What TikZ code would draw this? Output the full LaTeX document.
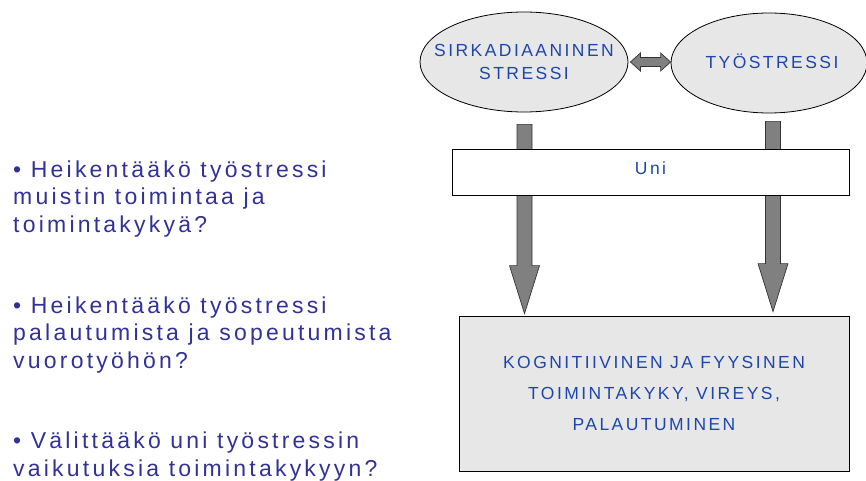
\documentclass[tikz,border=0pt]{standalone}
\usepackage{fontspec}
\setmainfont{Liberation Sans}
\newfontfamily\diagfont[LetterSpace=14]{Liberation Sans}
\newfontfamily\questfont[LetterSpace=14]{Liberation Sans}
\usetikzlibrary{shapes.geometric,calc}

\definecolor{labelblue}{RGB}{30,70,170}
\definecolor{questblue}{RGB}{50,50,150}
\definecolor{bubblegray}{RGB}{231,231,231}
\definecolor{arrowgray}{RGB}{128,128,128}

\tikzset{
  bubble/.style={ellipse, draw=black, line width=0.8pt, fill=bubblegray,
    inner sep=0pt},
  bubbletext/.style={inner sep=0pt, text=labelblue, align=center,
    font=\diagfont\fontsize{17.5}{23}\selectfont},
  barbox/.style={rectangle, draw=black, line width=0.8pt, fill=white,
    inner sep=0pt, text=labelblue, text depth=8pt,
    font=\diagfont\fontsize{17.5}{20}\selectfont},
  outcome/.style={rectangle, draw=black, line width=0.8pt, fill=bubblegray,
    inner sep=0pt, text=labelblue, align=center,
    font=\diagfont\fontsize{17.5}{31}\selectfont},
  blockarrow/.style={fill=arrowgray, draw=black!80, line width=0.7pt,
    line join=miter},
  question/.style={anchor=base west, inner sep=0pt, align=left,
    text=questblue, font=\questfont\fontsize{23}{27.3}\selectfont}
}

% vertical block arrow from #1 down to the tip at #2
\newcommand\downblock[2]{%
  \draw[blockarrow] let \p1=(#1), \p2=(#2) in
    (\x1-7.5,\y1) -- (\x1+7.5,\y1) -- (\x1+7.5,\y2+48) -- (\x1+15,\y2+48)
    -- (\x1,\y2) -- (\x1-15,\y2+48) -- (\x1-7.5,\y2+48) -- cycle;}

\begin{document}
\begin{tikzpicture}[x=1pt,y=-1pt]
\useasboundingbox (0,0) rectangle (866,481);

% causes
\node[bubble, minimum width=208pt, minimum height=100pt] (circ) at (524,62) {};
\node[bubbletext] (circtext) at (circ) {SIRKADIAANINEN\\STRESSI};
\node[bubble, minimum width=196pt, minimum height=100pt] (work) at (769,63) {};
\node[bubbletext] (worktext) at ($(work)+(3,-2)$) {TYÖSTRESSI};

% outcome
\node[outcome, minimum width=390pt, minimum height=155pt] (perf) at (654,393.5)
  {KOGNITIIVINEN JA FYYSINEN\\TOIMINTAKYKY, VIREYS,\\PALAUTUMINEN};

% two-headed arrow between the causes
\draw[blockarrow] let \p1=(circ.east), \p2=(work.west) in
  (\x1+2,\y1) -- (\x1+12,\y1+9) -- (\x1+12,\y1+4.5) -- (\x2-10,\y1+4.5)
  -- (\x2-10,\y1+9) -- (\x2,\y1) -- (\x2-10,\y1-9) -- (\x2-10,\y1-4.5)
  -- (\x1+12,\y1-4.5) -- (\x1+12,\y1-9) -- cycle;

% arrows down to the outcome
\coordinate (aL) at ($(circ.south)+(0.5,12)$);
\coordinate (tL) at ($(aL |- perf.north)+(0,-2)$);
\coordinate (aR) at ($(work.south)+(4,8)$);
\coordinate (tR) at ($(aR |- perf.north)+(0,-4)$);
\downblock{aL}{tL}
\downblock{aR}{tR}

% sleep as mediator, laid over the arrows
\node[barbox, minimum width=397pt, minimum height=46pt] (sleep) at (650.5,172) {Uni};

% research questions (anchored at the baseline of the last line)
\node[question] (q1) at (13,232)
  {• Heikentääkö työstressi\\muistin toimintaa ja\\toimintakykyä?};
\node[question] (q2) at (13,368)
  {• Heikentääkö työstressi\\palautumista ja sopeutumista\\vuorotyöhön?};
\node[question] (q3) at (13,476)
  {• Välittääkö uni työstressin\\vaikutuksia toimintakykyyn?};
\end{tikzpicture}
\end{document}
